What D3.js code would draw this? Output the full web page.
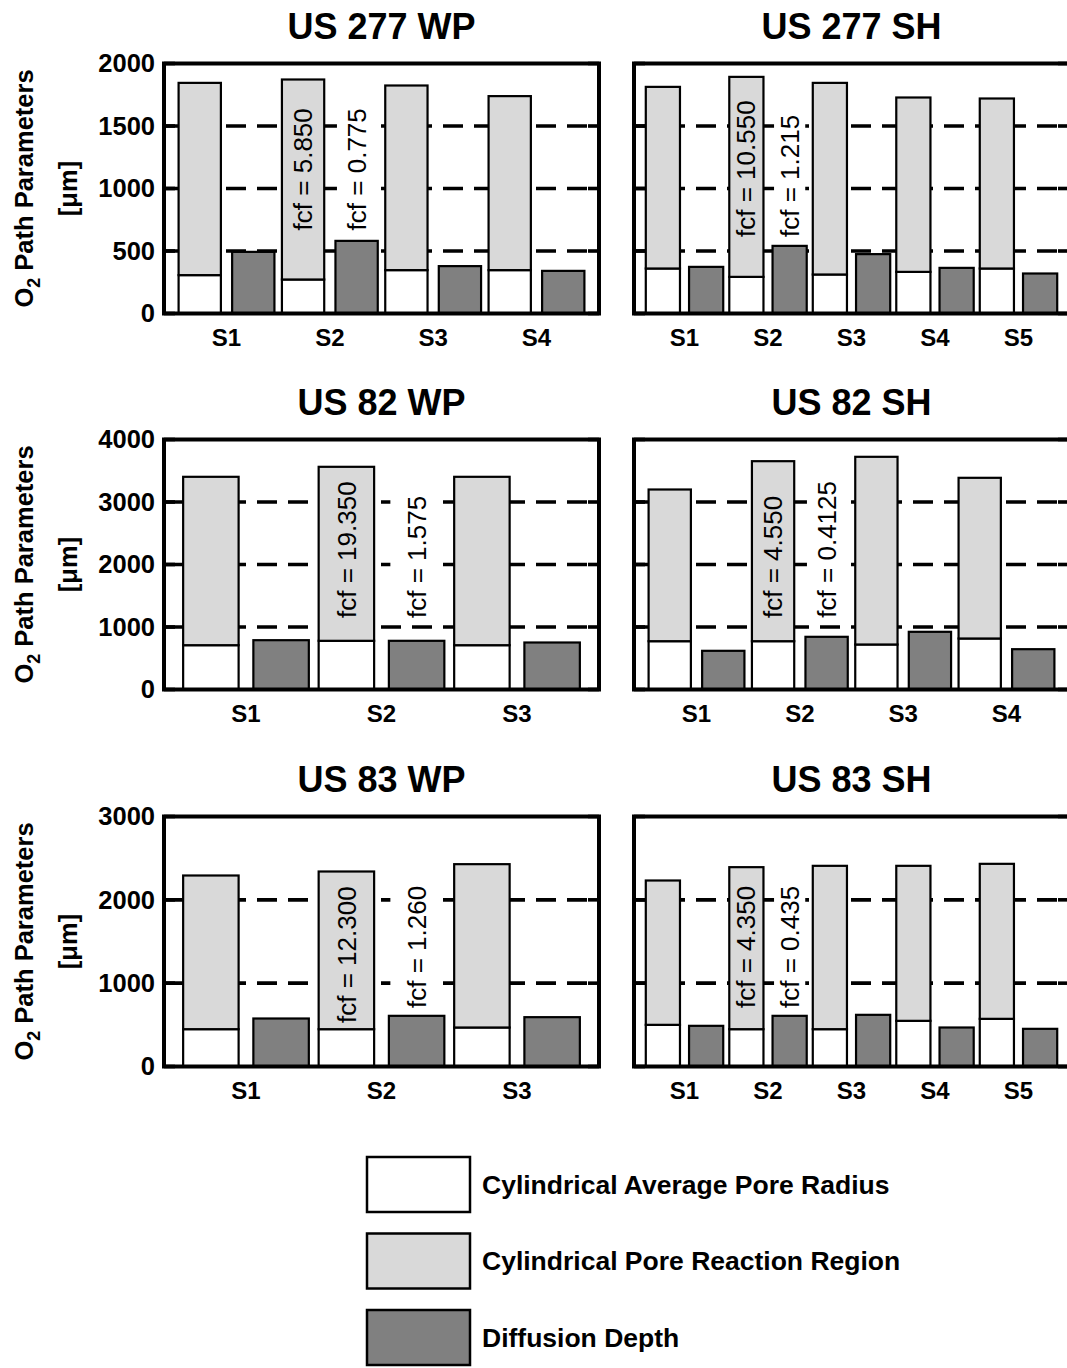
<!DOCTYPE html>
<html><head><meta charset="utf-8">
<script src="https://cdn.jsdelivr.net/npm/d3@7"></script>
<style>
body{margin:0;background:#fff}
text{font-family:"Liberation Sans",Arial,Helvetica,sans-serif;fill:#000}
</style>
</head><body>
<svg id="chart" width="1067" height="1368"></svg>
<script>
// ---------- data ----------
const panelTitles = ["US 277 WP", "US 277 SH", "US 82 WP", "US 82 SH", "US 83 WP", "US 83 SH"];
const groups3 = ["S1", "S2", "S3"];
const groups4 = ["S1", "S2", "S3", "S4"];
const groups5 = ["S1", "S2", "S3", "S4", "S5"];

const seriesNames = ["Cylindrical Average Pore Radius", "Cylindrical Pore Reaction Region", "Diffusion Depth"];

// US 277 WP
const us277wpRadius    = [307, 272, 347, 347];
const us277wpReaction  = [1538, 1600, 1477, 1392];
const us277wpDiffusion = [493, 581, 379, 341];
// US 277 SH
const us277shRadius    = [360, 293, 312, 333, 360];
const us277shReaction  = [1453, 1600, 1533, 1395, 1360];
const us277shDiffusion = [373, 541, 475, 365, 320];
// US 82 WP
const us82wpRadius     = [709, 779, 709];
const us82wpReaction   = [2694, 2784, 2694];
const us82wpDiffusion  = [789, 779, 752];
// US 82 SH
const us82shRadius     = [773, 773, 720, 816];
const us82shReaction   = [2427, 2880, 3003, 2571];
const us82shDiffusion  = [619, 843, 923, 645];
// US 83 WP
const us83wpRadius     = [448, 448, 468];
const us83wpReaction   = [1844, 1892, 1960];
const us83wpDiffusion  = [576, 608, 592];
// US 83 SH
const us83shRadius     = [500, 448, 448, 548, 572];
const us83shReaction   = [1732, 1944, 1960, 1860, 1860];
const us83shDiffusion  = [488, 608, 620, 468, 452];

// y tick labels per row
const ticksRow1 = [0, 500, 1000, 1500, 2000];
const ticksRow2 = [0, 1000, 2000, 3000, 4000];
const ticksRow3 = [0, 1000, 2000, 3000];

// fcf annotations: panel index, bar, label, anchor value (data units)
const fcfPanel = [0, 0, 1, 1, 2, 2, 3, 3, 4, 4, 5, 5];
const fcfBar   = ["pore", "diff", "pore", "diff", "pore", "diff", "pore", "diff", "pore", "diff", "pore", "diff"];
const fcfText  = ["fcf = 5.850", "fcf = 0.775", "fcf = 10.550", "fcf = 1.215",
                  "fcf = 19.350", "fcf = 1.575", "fcf = 4.550", "fcf = 0.4125",
                  "fcf = 12.300", "fcf = 1.260", "fcf = 4.350", "fcf = 0.435"];
const fcfAt    = [665, 665, 612, 612, 1144, 1144, 1144, 1150, 522, 702, 702, 702];

// ---------- assemble ----------
const panelGroups = [groups4, groups5, groups3, groups4, groups3, groups5];
const panelRadius = [us277wpRadius, us277shRadius, us82wpRadius, us82shRadius, us83wpRadius, us83shRadius];
const panelReaction = [us277wpReaction, us277shReaction, us82wpReaction, us82shReaction, us83wpReaction, us83shReaction];
const panelDiffusion = [us277wpDiffusion, us277shDiffusion, us82wpDiffusion, us82shDiffusion, us83wpDiffusion, us83shDiffusion];
const rowTicks = [ticksRow1, ticksRow2, ticksRow3];

const colors = {radius: "#ffffff", reaction: "#d9d9d9", diff: "#808080"};

const svg = d3.select("#chart");
const colX = [[164, 599], [634, 1069]];
const rowTop = [63.5, 439.5, 816.5];
const plotH = 250;
const FONT = '"Liberation Sans",Arial,sans-serif';

panelTitles.forEach((title, p) => {
  const row = Math.floor(p / 2), col = p % 2;
  const [L, R] = colX[col];
  const T = rowTop[row], B = T + plotH;
  const ticks = rowTicks[row];
  const groups = panelGroups[p];

  const y = d3.scaleLinear().domain([0, d3.max(ticks)]).range([B, T]);
  const x0 = d3.scaleBand().domain(groups).range([L, R]).paddingInner(0).paddingOuter(0.105);
  const x1 = d3.scaleBand().domain(["pore", "diff"]).range([0, x0.bandwidth()])
               .paddingInner(0.21).paddingOuter(0.07);

  const g = svg.append("g");

  // dashed grid
  g.selectAll("line.grid").data(ticks.filter(t => t > 0 && t < d3.max(ticks))).join("line")
    .attr("x1", L).attr("x2", R).attr("y1", d => y(d)).attr("y2", d => y(d))
    .attr("stroke", "#000").attr("stroke-width", 3.6).attr("stroke-dasharray", "20,11");
  // inward ticks
  ticks.forEach(t => {
    g.append("line").attr("x1", L).attr("x2", L + 11).attr("y1", y(t)).attr("y2", y(t))
      .attr("stroke", "#000").attr("stroke-width", 3.6);
    g.append("line").attr("x1", R - 11).attr("x2", R).attr("y1", y(t)).attr("y2", y(t))
      .attr("stroke", "#000").attr("stroke-width", 3.6);
  });

  // stacked bars
  const rows = groups.map((gname, i) => ({group: gname, radius: panelRadius[p][i], reaction: panelReaction[p][i], diff: panelDiffusion[p][i]}));
  const stack = d3.stack().keys(["radius", "reaction"])(rows);
  stack.forEach(layer => {
    g.selectAll(null).data(layer).join("rect")
      .attr("x", d => x0(d.data.group) + x1("pore"))
      .attr("width", x1.bandwidth())
      .attr("y", d => y(d[1]))
      .attr("height", d => y(d[0]) - y(d[1]))
      .attr("fill", colors[layer.key])
      .attr("stroke", "#000").attr("stroke-width", 2.2);
  });
  g.selectAll(null).data(rows).join("rect")
    .attr("x", d => x0(d.group) + x1("diff"))
    .attr("width", x1.bandwidth())
    .attr("y", d => y(d.diff))
    .attr("height", d => y(0) - y(d.diff))
    .attr("fill", colors.diff)
    .attr("stroke", "#000").attr("stroke-width", 2.2);

  // frame
  g.append("rect").attr("x", L).attr("y", T).attr("width", R - L).attr("height", B - T)
    .attr("fill", "none").attr("stroke", "#000").attr("stroke-width", 4);

  // x axis labels
  const xa = g.append("g").attr("transform", `translate(0,${B})`)
    .call(d3.axisBottom(x0).tickSize(0).tickPadding(15));
  xa.select(".domain").remove();
  xa.selectAll("text").attr("font-size", 24).attr("font-weight", "bold")
    .attr("font-family", FONT).attr("fill", "#000");

  // y axis labels (left column only)
  if (col === 0) {
    const ya = g.append("g").attr("transform", `translate(${L},0)`)
      .call(d3.axisLeft(y).tickValues(ticks).tickFormat(d3.format("d")).tickSize(0).tickPadding(9));
    ya.select(".domain").remove();
    ya.selectAll("text").attr("font-size", 25.5).attr("font-weight", "bold")
      .attr("font-family", FONT).attr("fill", "#000");

    const cy = (T + B) / 2;
    const yl = g.append("text").attr("transform", `translate(33,${cy}) rotate(-90)`)
      .attr("text-anchor", "middle").attr("font-size", 25.5).attr("font-weight", "bold");
    yl.append("tspan").text("O");
    yl.append("tspan").attr("font-size", 18).attr("dy", 7).text("2");
    yl.append("tspan").attr("dy", -7).text(" Path Parameters");
    g.append("text").attr("transform", `translate(77,${cy}) rotate(-90)`)
      .attr("text-anchor", "middle").attr("font-size", 25.5).attr("font-weight", "bold")
      .text("[μm]");
  }

  // title
  g.append("text").attr("x", (L + R) / 2).attr("y", T - 24.5)
    .attr("text-anchor", "middle").attr("font-size", 36).attr("font-weight", "bold").text(title);

  // fcf annotations
  fcfPanel.forEach((pi, k) => {
    if (pi !== p) return;
    const bx = x0("S2") + x1(fcfBar[k]);
    const cx = bx + x1.bandwidth() / 2;
    const bg = g.append("rect").attr("fill", fcfBar[k] === "diff" ? "#fff" : "none");
    const t = g.append("text")
      .attr("transform", `translate(${cx},${y(fcfAt[k])}) rotate(-90)`)
      .attr("dy", "0.35em").attr("font-size", 26).text(fcfText[k]);
    const len = t.node().getComputedTextLength();
    bg.attr("x", bx + 1.5).attr("width", x1.bandwidth() - 3)
      .attr("y", y(fcfAt[k]) - len - 3).attr("height", len + 6);
  });
});

// legend
const legendColors = [colors.radius, colors.reaction, colors.diff];
const lg = svg.append("g");
seriesNames.forEach((name, i) => {
  const top = 1157 + i * 76.5;
  lg.append("rect").attr("x", 367).attr("y", top).attr("width", 103).attr("height", 55)
    .attr("fill", legendColors[i]).attr("stroke", "#000").attr("stroke-width", 2.5);
  lg.append("text").attr("x", 482).attr("y", top + 27.5).attr("dy", "0.35em")
    .attr("font-size", 26.5).attr("font-weight", "bold").text(name);
});
</script>
</body></html>
